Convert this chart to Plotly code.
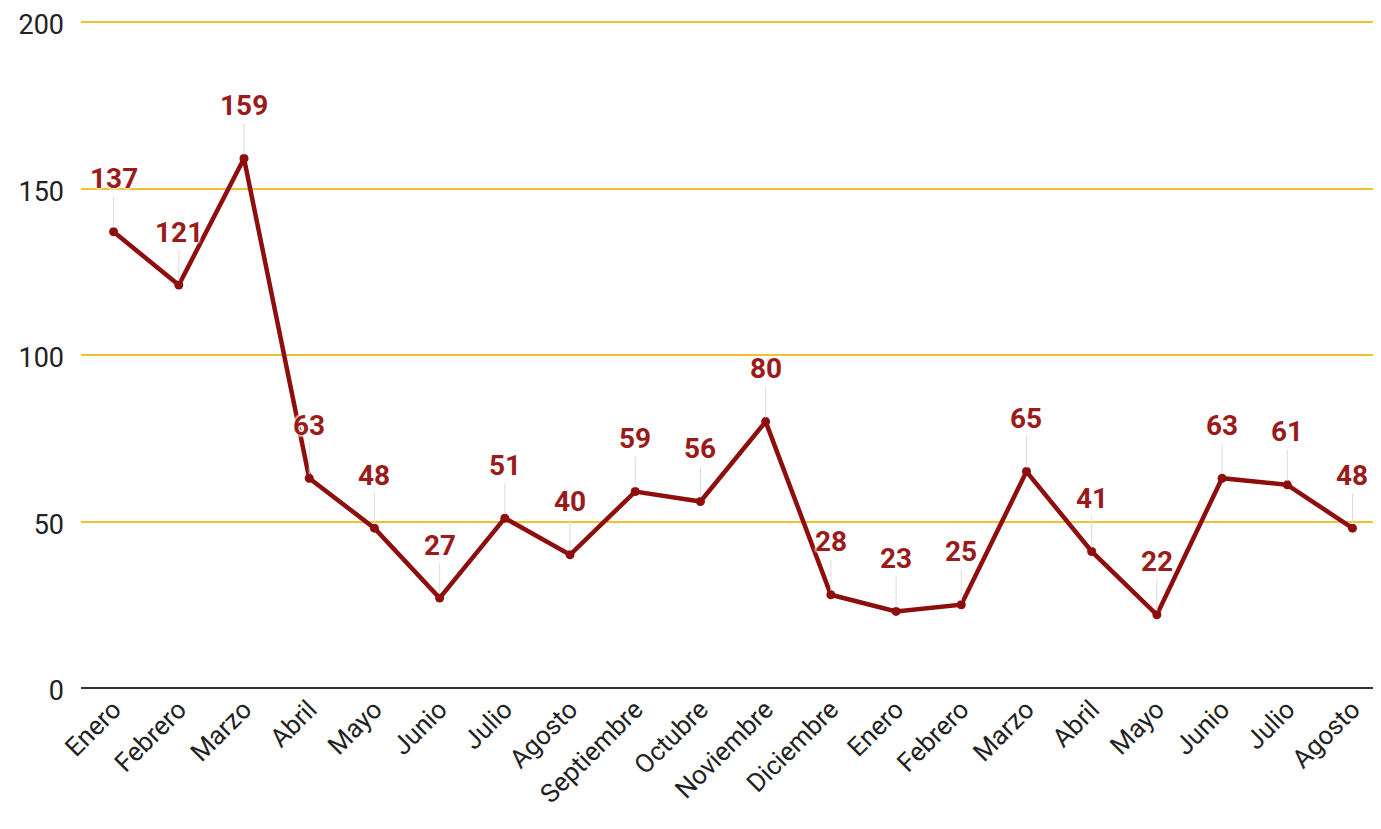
import plotly.graph_objects as go

months = ["Enero", "Febrero", "Marzo", "Abril", "Mayo", "Junio", "Julio", "Agosto",
          "Septiembre", "Octubre", "Noviembre", "Diciembre",
          "Enero", "Febrero", "Marzo", "Abril", "Mayo", "Junio", "Julio", "Agosto"]
values = [137, 121, 159, 63, 48, 27, 51, 40, 59, 56, 80, 28, 23, 25, 65, 41, 22, 63, 61, 48]
y_ticks = [0, 50, 100, 150, 200]

idx = list(range(len(months)))
line_color = "#8e0e0e"
label_color = "#9a1b1b"

fig = go.Figure()
fig.add_trace(go.Scatter(
    x=idx, y=values, mode="lines+markers",
    line=dict(color=line_color, width=4.5),
    marker=dict(color=line_color, size=9),
    hoverinfo="x+y", showlegend=False,
))

annotations = []
for i, v in zip(idx, values):
    annotations.append(dict(
        x=i, y=v, xref="x", yref="y", text=str(v),
        showarrow=True, arrowhead=0, arrowwidth=1, arrowcolor="#dddddd",
        ax=0, ay=-53, standoff=4,
        font=dict(family="Roboto", size=28, color=label_color, weight="bold",
                  shadow="0 0 3px white, 0 0 3px white, 0 0 3px white, 0 0 3px white"),
    ))

fig.update_layout(
    width=1381, height=829,
    margin=dict(l=73, r=0, t=12, b=149, autoexpand=False),
    paper_bgcolor="white", plot_bgcolor="white",
    font=dict(family="Roboto", color="#222222"),
    annotations=annotations,
    xaxis=dict(
        tickmode="array", tickvals=idx, ticktext=months, tickangle=-45,
        range=[-0.5, 19.56], showgrid=False, zeroline=False, showline=False,
        tickfont=dict(size=26, color="#222222"), ticks="", automargin=False,
    ),
    yaxis=dict(
        range=[0, 200.6], tickvals=y_ticks, showgrid=True,
        gridcolor="#efc12e", gridwidth=2, zeroline=True,
        zerolinecolor="#333333", zerolinewidth=2,
        tickfont=dict(size=27, color="#222222"), ticks="",
        ticklabelstandoff=16, ticklabelshift=3,
        automargin=False, ticklabeloverflow="allow",
    ),
)

fig.write_html("out.html")
